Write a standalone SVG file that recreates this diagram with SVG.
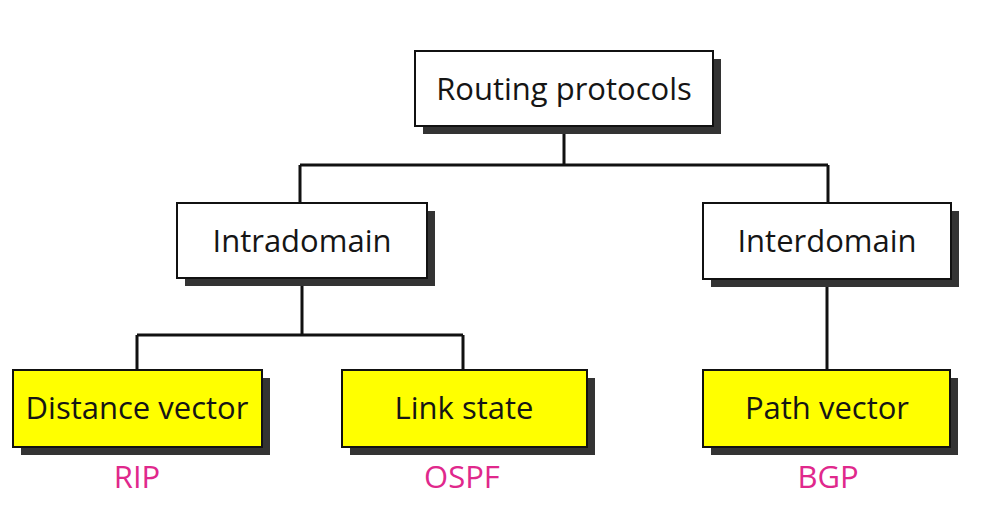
<svg xmlns="http://www.w3.org/2000/svg" width="986" height="506" viewBox="0 0 986 506">
<style>
.shadow{fill:#333333}
.box{fill:#ffffff;stroke:#111111;stroke-width:2}
.hl{fill:#ffff00;stroke:#111111;stroke-width:2}
.t{font-family:"Open Sans","Liberation Sans",sans-serif;font-size:31px;fill:#151515;text-anchor:middle}
.p{font-family:"Open Sans","Liberation Sans",sans-serif;font-size:31px;fill:#e0288c;text-anchor:middle}
.c{fill:none;stroke:#111111;stroke-width:3}
</style>
<rect width="986" height="506" fill="#ffffff"/>
<g id="connectors">
<path class="c" d="M564 126V165M300 165H828M300 165V203M828 165V203"/>
<path class="c" d="M302 278V335M137 335H463M137 335V370M463 335V370"/>
<path class="c" d="M827 279V370"/>
</g>
<g id="routing">
<rect class="shadow" x="423" y="59" width="298" height="75"/>
<rect class="box" x="415" y="51" width="298" height="75"/>
<text class="t" x="564" y="100">Routing protocols</text>
</g>
<g id="intradomain">
<rect class="shadow" x="185" y="211" width="250" height="75"/>
<rect class="box" x="177" y="203" width="250" height="75"/>
<text class="t" x="302" y="252">Intradomain</text>
</g>
<g id="interdomain">
<rect class="shadow" x="711" y="211" width="248" height="76"/>
<rect class="box" x="703" y="203" width="248" height="76"/>
<text class="t" x="827" y="252">Interdomain</text>
</g>
<g id="distance">
<rect class="shadow" x="21" y="378" width="249" height="77"/>
<rect class="hl" x="13" y="370" width="249" height="77"/>
<text class="t" x="137" y="419">Distance vector</text>
<text class="p" x="137" y="488">RIP</text>
</g>
<g id="link">
<rect class="shadow" x="350" y="378" width="245" height="77"/>
<rect class="hl" x="342" y="370" width="245" height="77"/>
<text class="t" x="464" y="419">Link state</text>
<text class="p" x="462" y="488">OSPF</text>
</g>
<g id="path">
<rect class="shadow" x="711" y="378" width="247" height="77"/>
<rect class="hl" x="703" y="370" width="247" height="77"/>
<text class="t" x="827" y="419">Path vector</text>
<text class="p" x="828" y="488">BGP</text>
</g>
</svg>
